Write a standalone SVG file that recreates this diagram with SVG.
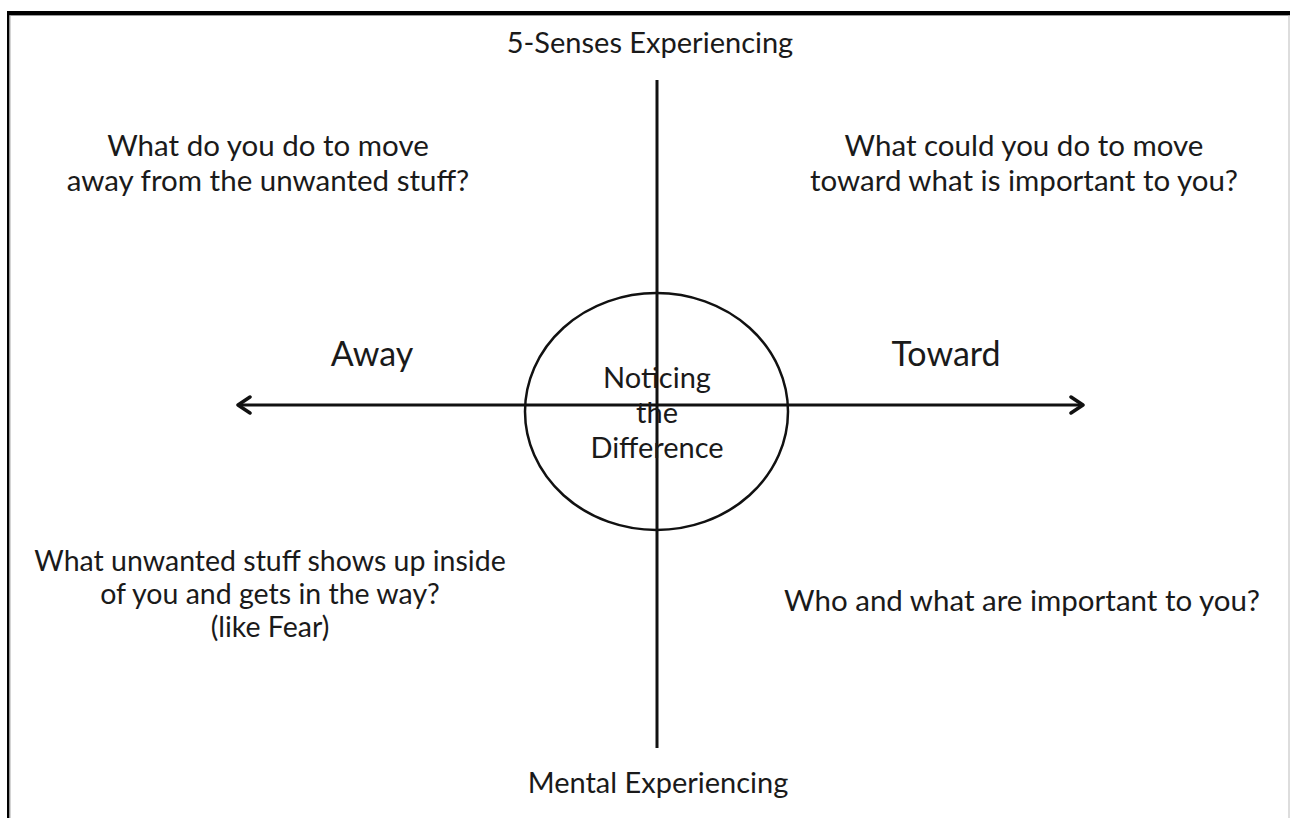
<svg xmlns="http://www.w3.org/2000/svg" width="1290" height="818" viewBox="0 0 1290 818">
  <style>
    .t { font-family: Lato, "Open Sans", "Liberation Sans", sans-serif; fill: #1a1a1a; text-anchor: middle; }
    .q { font-size: 29.5px; }
    .q2 { font-size: 28.5px; }
    .big { font-size: 34px; }
    .axis { font-size: 29px; }
    .mid { font-size: 29px; }
    .ln { stroke: #111; stroke-width: 3; fill: none; }
  </style>
  <defs>
    <marker id="chev" viewBox="0 0 20 20" refX="17" refY="10" markerWidth="20" markerHeight="20" markerUnits="userSpaceOnUse" orient="auto-start-reverse">
      <path d="M5,2 L17,10 L5,18" fill="none" stroke="#111" stroke-width="3.5" stroke-linecap="round" stroke-linejoin="round"/>
    </marker>
  </defs>
  <rect width="1290" height="818" fill="#fff"/>

  <!-- page frame -->
  <g id="frame">
    <rect x="7" y="11" width="1283" height="4" fill="#000"/>
    <line x1="7" y1="15.5" x2="1290" y2="15.5" stroke="#999" stroke-width="1"/>
    <rect x="7" y="11" width="2.5" height="807" fill="#000"/>
    <line x1="10" y1="15" x2="10" y2="818" stroke="#aaa" stroke-width="1"/>
    <line x1="1289" y1="15" x2="1289" y2="818" stroke="#bbb" stroke-width="1"/>
  </g>

  <!-- axes -->
  <g id="connectors">
    <line class="ln" x1="657" y1="80" x2="657" y2="748"/>
    <line class="ln" x1="238" y1="405" x2="1083" y2="405" marker-start="url(#chev)" marker-end="url(#chev)"/>
  </g>

  <g id="center">
    <ellipse cx="656.5" cy="411.5" rx="131.5" ry="118.5" fill="none" stroke="#111" stroke-width="2.5"/>
    <text class="t mid" x="657" y="388">Noticing</text>
    <text class="t mid" x="657" y="423">the</text>
    <text class="t mid" x="657" y="458">Difference</text>
  </g>

  <g id="top-label">
    <text class="t axis" x="650" y="53">5-Senses Experiencing</text>
  </g>
  <g id="bottom-label">
    <text class="t axis" x="658" y="793">Mental Experiencing</text>
  </g>

  <g id="away">
    <text class="t big" x="372" y="366">Away</text>
  </g>
  <g id="toward">
    <text class="t big" x="946" y="366">Toward</text>
  </g>

  <g id="top-left">
    <text class="t q" x="268" y="156">What do you do to move</text>
    <text class="t q" x="268" y="191">away from the unwanted stuff?</text>
  </g>
  <g id="top-right">
    <text class="t q" x="1024" y="156">What could you do to move</text>
    <text class="t q" x="1024" y="191">toward what is important to you?</text>
  </g>
  <g id="bottom-left">
    <text class="t q2" x="270" y="571">What unwanted stuff shows up inside</text>
    <text class="t q2" x="270" y="604">of you and gets in the way?</text>
    <text class="t q2" x="270" y="637">(like Fear)</text>
  </g>
  <g id="bottom-right">
    <text class="t q" x="1022" y="611">Who and what are important to you?</text>
  </g>
</svg>
